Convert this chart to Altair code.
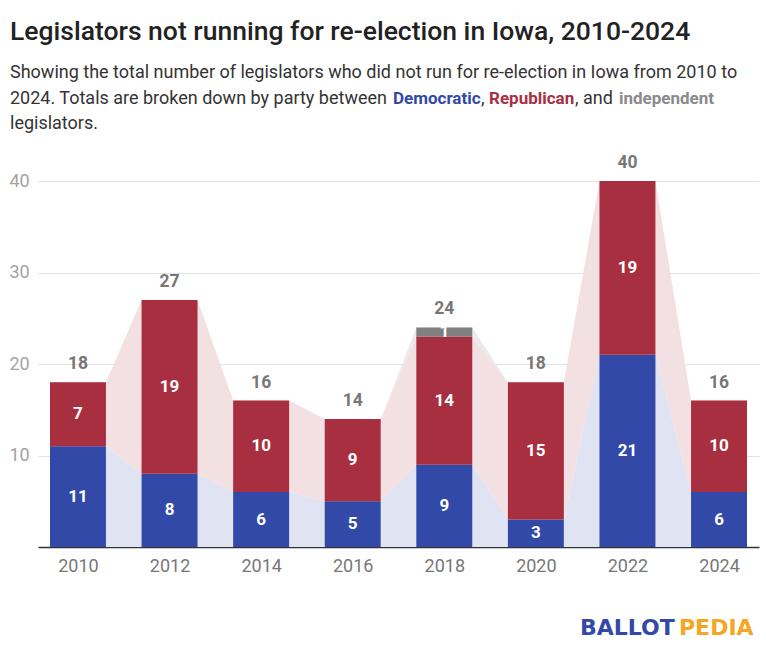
import altair as alt
import pandas as pd

years = [2010, 2012, 2014, 2016, 2018, 2020, 2022, 2024]
dem = [11, 8, 6, 5, 9, 3, 21, 6]
rep = [7, 19, 10, 9, 14, 15, 19, 10]
ind = [0, 0, 0, 0, 1, 0, 0, 0]
parties = ["Democratic", "Republican", "independent"]
bar_colors = ["#3249a8", "#a82f3f", "#808080"]
area_colors = ["#e0e3f2", "#f3e0e2", "#ebebeb"]

HALF = 0.611  # half bar width in years (style)

rows = []
area_rows = []
tot_rows = []
for i, y in enumerate(years):
    lo = 0
    for p, v in zip(parties, [dem[i], rep[i], ind[i]]):
        hi = lo + v
        rows.append({"year": y, "party": p, "val": v, "lo": lo, "hi": hi,
                     "mid": (lo + hi) / 2, "xl": y - HALF, "xr": y + HALF})
        for xx in (y - HALF, y + HALF):
            area_rows.append({"aparty": p, "xp": xx, "alo": lo, "ahi": hi})
        lo = hi
    tot_rows.append({"year": y, "total": lo})

bars_df = pd.DataFrame(rows)
area_df = pd.DataFrame(area_rows)
tot_df = pd.DataFrame(tot_rows)

W, H = 721, 366
xscale = alt.Scale(domain=[2009.127, 2024.873], nice=False, zero=False)
yscale = alt.Scale(domain=[0, 40], nice=False)

y_axis = alt.Axis(values=[10, 20, 30, 40], grid=True, gridColor="#e3e3e3",
                  domain=False, ticks=False, labelAlign="left", labelPadding=29,
                  labelFont="Roboto", labelFontSize=18, labelColor="#a3a3a3",
                  title=None)
x_axis = alt.Axis(values=years, format="d", grid=False, ticks=False,
                  domainColor="#333333", domainWidth=1.5,
                  labelFont="Roboto", labelFontSize=18, labelColor="#777777",
                  labelPadding=10, title=None)

area_layers = []
for p, c in zip(parties, area_colors):
    area_layers.append(
        alt.Chart(area_df).transform_filter(alt.datum.aparty == p).mark_area(
            color=c, opacity=1, interpolate="linear"
        ).encode(
            x=alt.X("xp:Q", scale=xscale, axis=x_axis),
            y=alt.Y("ahi:Q", scale=yscale, axis=y_axis, stack=None),
            y2="alo:Q",
        )
    )

bars = alt.Chart(bars_df).transform_filter("datum.val > 0").mark_rect().encode(
    x=alt.X("xl:Q", scale=xscale),
    x2="xr:Q",
    y=alt.Y("lo:Q", scale=yscale),
    y2="hi:Q",
    color=alt.Color("party:N", scale=alt.Scale(domain=parties, range=bar_colors), legend=None),
)

seg_labels = alt.Chart(bars_df).transform_filter("datum.val > 0").mark_text(
    font="Roboto", fontSize=17, fontWeight="bold", color="white", baseline="middle"
).encode(
    x=alt.X("year:Q", scale=xscale),
    y=alt.Y("mid:Q", scale=yscale),
    text="val:Q",
)

tot_labels = alt.Chart(tot_df).mark_text(
    font="Roboto", fontSize=17.5, fontWeight="bold", color="#777777", baseline="bottom", dy=-9
).encode(
    x=alt.X("year:Q", scale=xscale),
    y=alt.Y("total:Q", scale=yscale),
    text="total:Q",
)

def txt(s, x, y, size, color, weight="normal", font="Roboto", align="left"):
    return alt.Chart(pd.DataFrame({"t": [s]})).mark_text(
        font=font, fontSize=size, fontWeight=weight, color=color,
        align=align, baseline="alphabetic"
    ).encode(x=alt.value(x), y=alt.value(y), text="t:N")

OX, OY = 38, 181
SS = 18
title = txt("Legislators not running for re-election in Iowa, 2010-2024",
            10 - OX, 40 - OY, 26.5, "#222222", weight=500)
sub1 = txt("Showing the total number of legislators who did not run for re-election in Iowa from 2010 to",
           10 - OX, 78 - OY, SS, "#333333")
sub2a = txt("2024. Totals are broken down by party between", 10 - OX, 104 - OY, SS, "#333333")
sub2b = txt("Democratic", 393 - OX, 104 - OY, 17, "#3249a8", weight="bold")
sub2c = txt(",", 481 - OX, 104 - OY, SS, "#333333")
sub2d = txt("Republican", 489 - OX, 104 - OY, 17, "#a82f3f", weight="bold")
sub2e = txt(", and", 575 - OX, 104 - OY, SS, "#333333")
sub2f = txt("independent", 619 - OX, 104 - OY, 17, "#8a8a8a", weight="bold")
sub3 = txt("legislators.", 10 - OX, 129 - OY, SS, "#333333")
logo1 = txt("BALLOT", 580 - OX, 635 - OY, 22, "#3249a8", weight="bold", font="DejaVu Sans")
logo2 = txt("PEDIA", 679 - OX, 635 - OY, 22, "#f5a623", weight="bold", font="DejaVu Sans")

chart = alt.layer(
    *area_layers, bars, seg_labels, tot_labels,
    title, sub1, sub2a, sub2b, sub2c, sub2d, sub2e, sub2f, sub3, logo1, logo2
).resolve_scale(color="independent").properties(
    width=W, height=H,
    autosize=alt.AutoSizeParams(type="none"),
    padding={"left": OX, "top": OY, "right": 766 - OX - W, "bottom": 651 - OY - H},
    background="white",
).configure_view(stroke=None)

chart.save("out.html", embed_options={"renderer": "svg", "actions": False})
